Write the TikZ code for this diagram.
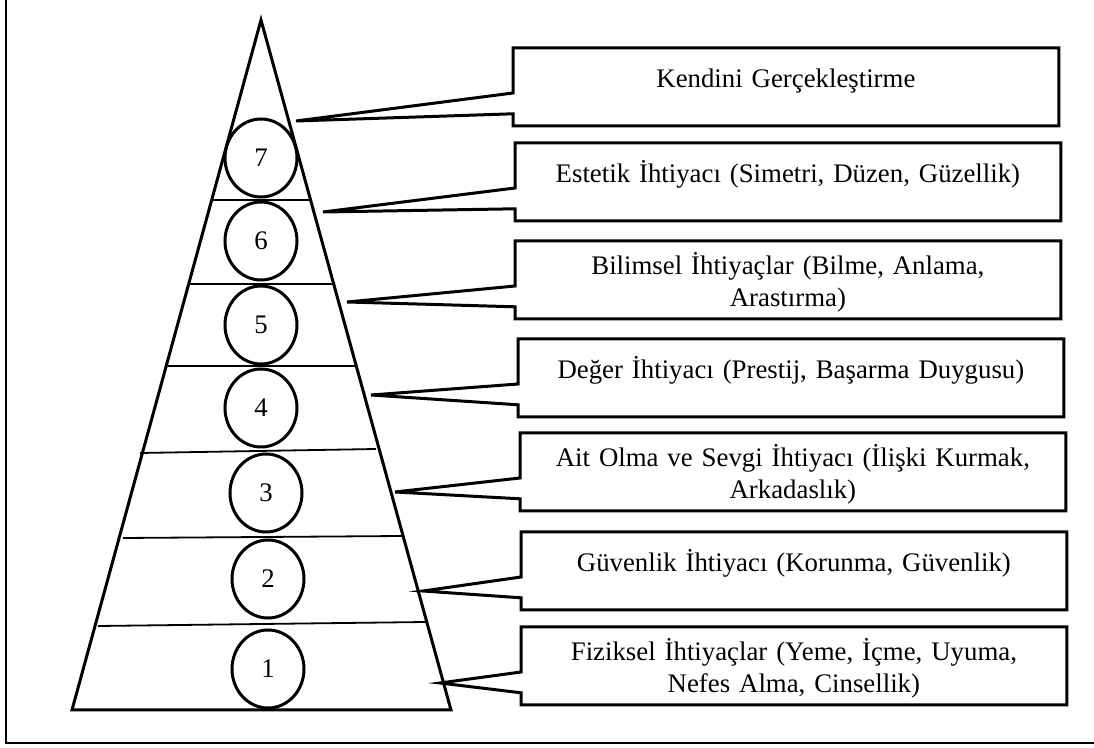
\documentclass[tikz,border=0pt]{standalone}
\usepackage{fontspec}
\setmainfont{Liberation Serif}
\usepackage{tikz}
\usetikzlibrary{shapes.geometric}

\begin{document}
\begin{tikzpicture}[x=0.5pt,y=-0.5pt,font=\fontsize{13.4pt}{16pt}\selectfont,
                    main node/.style={ellipse,draw,line width=1.5pt,minimum width=36pt,minimum height=39pt,inner sep=0pt},
                    need node/.style={anchor=north west,inner sep=0pt,text width=272.5pt,align=center,text height=19.5pt,text depth=19pt},
                    two lines/.style={text height=16.5pt,text depth=22pt},
                    box line/.style={line width=1.5pt}]
  \useasboundingbox (0,0) rectangle (1094,748);
  \draw[line width=0.7pt] (6,0) |- (1094,743);

  % pyramid
  \draw[line width=1.5pt] (261,20) -- (451,710) -- (72,710) -- cycle;
  \draw[line width=0.9pt] (213,200) -- (310,200)
                          (190,284) -- (333,284)
                          (168,366) -- (355,366)
                          (140,453) -- (376,449)
                          (123,538) -- (402,536)
                          (98,626) -- (426,622);

  \node[main node] (7) at (261,158) {7};
  \node[main node] (6) at (261,241) {6};
  \node[main node] (5) at (261,325) {5};
  \node[main node] (4) at (261,408) {4};
  \node[main node] (3) at (266,493) {3};
  \node[main node] (2) at (268,579) {2};
  \node[main node] (1) at (268,669) {1};

  % needs
  \node[need node] (G) at (513,48) {Kendini Gerçekleştirme};
  \node[need node] (F) at (515,143) {Estetik İhtiyacı (Simetri, Düzen, Güzellik)};
  \node[need node,two lines] (E) at (515,241) {Bilimsel İhtiyaçlar (Bilme, Anlama,\\ Arastırma)};
  \node[need node] (D) at (518,339) {Değer İhtiyacı (Prestij, Başarma Duygusu)};
  \node[need node,two lines] (C) at (520,433) {Ait Olma ve Sevgi İhtiyacı (İlişki Kurmak,\\ Arkadaslık)};
  \node[need node] (B) at (521,532) {Güvenlik İhtiyacı (Korunma, Güvenlik)};
  \node[need node,two lines] (A) at (521,627) {Fiziksel İhtiyaçlar (Yeme, İçme, Uyuma,\\ Nefes Alma, Cinsellik)};

  \coordinate (g) at (296,121);
  \coordinate (f) at (323,212);
  \coordinate (e) at (347,302);
  \coordinate (d) at (371,395);
  \coordinate (c) at (395,492);
  \coordinate (b) at (423,591);
  \coordinate (a) at (440,683);

  \draw[box line] (G.north west) -- ++(0,45) -- (g) -- ([yshift=6pt]G.south west) -- (G.south west) -- (G.south east) -- (G.north east) -- cycle;
  \draw[box line] (F.north west) -- ++(0,45) -- (f) -- ([yshift=6pt]F.south west) -- (F.south west) -- (F.south east) -- (F.north east) -- cycle;
  \draw[box line] (E.north west) -- ++(0,45) -- (e) -- ([yshift=6pt]E.south west) -- (E.south west) -- (E.south east) -- (E.north east) -- cycle;
  \draw[box line] (D.north west) -- ++(0,45) -- (d) -- ([yshift=6pt]D.south west) -- (D.south west) -- (D.south east) -- (D.north east) -- cycle;
  \draw[box line] (C.north west) -- ++(0,45) -- (c) -- ([yshift=6pt]C.south west) -- (C.south west) -- (C.south east) -- (C.north east) -- cycle;
  \draw[box line] (B.north west) -- ++(0,45) -- (b) -- ([yshift=6pt]B.south west) -- (B.south west) -- (B.south east) -- (B.north east) -- cycle;
  \draw[box line] (A.north west) -- ++(0,45) -- (a) -- ([yshift=6pt]A.south west) -- (A.south west) -- (A.south east) -- (A.north east) -- cycle;
\end{tikzpicture}
\end{document}
